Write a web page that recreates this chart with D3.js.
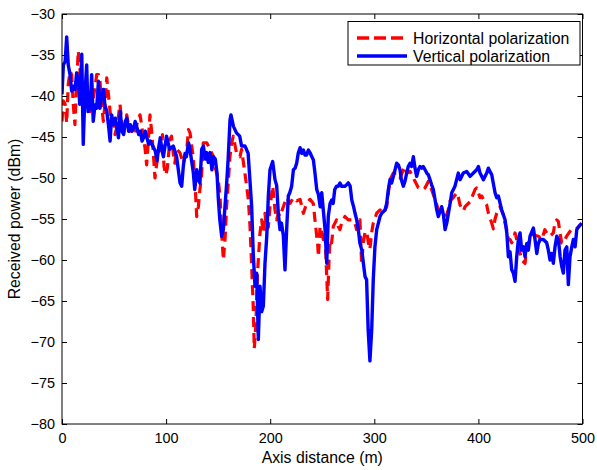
<!DOCTYPE html>
<html>
<head>
<meta charset="utf-8">
<script src="https://cdn.jsdelivr.net/npm/d3@7"></script>
<style>
  body { margin: 0; background: #fff; }
  text { font-family: "Liberation Sans", Arial, sans-serif; }
</style>
</head>
<body>
<svg id="chart" width="597" height="470"></svg>
<script>
// ---------- DATA ----------
const seriesNames = ["Horizontal polarization", "Vertical polarization"];
const xTicks = [0, 100, 200, 300, 400, 500];
const yTicks = [-30, -35, -40, -45, -50, -55, -60, -65, -70, -75, -80];
const xLabel = "Axis distance (m)";
const yLabel = "Received power (dBm)";

const horizDist = [0,1.3,3,4.5,6,7.7,9.3,10.8,12.4,14,15.6,17.2,18.8,20.5,22,23.7,25.3,26.9,28.5,30.1,31.7,33.3,35,36.5,38.1,39.7,41.2,43,44.6,46.2,47.7,49.3,50.9,52.5,54,55.7,57.3,59,62.2,63.8,65.4,67,68.6,70.2,71.8,74.9,76.5,78,79.7,81.3,82.9,84.5,86.1,87.6,89.3,90.8,92.4,94,95.7,96.5,98,99.8,101.2,103.7,105.2,106.8,108.4,110,113.2,116.4,119.6,121.5,123,124.6,126,127.8,129.4,131,132.5,134,135.7,139,142.2,145.4,147,150.1,151.8,153.4,155,156.6,158.1,159.7,161.3,163,164.6,167.7,169.3,171,172.5,175.7,179,180.6,182.2,183.7,184.7,186.2,187.8,190.2,191.8,193.4,195,196.6,198.2,199.8,202.4,204.6,206.2,207.8,209.4,212.6,215.8,219,222.2,225.4,228.7,231.9,235,238.2,241.4,243,244.7,245.6,246.3,247.9,249.5,251,252.7,254.3,255.2,256.5,257.4,259,260.6,263.8,265.4,267,268.6,271.8,275,278.2,281.4,283,286.2,287.8,289.4,291,292.7,294.3,295.8,297.4,299,302.3,305.5,308.7,311.9,315.1,318.3,321.5,324.7,327.9,329.5,331.1,334.3,339.1,342.3,347.2,348.8,350.4,352,358.4,361.5,363,364.7,366.3,369.5,371,372.8,375.9,379.2,380.8,382.4,384,385.6,387.2,392,393.6,396.8,398.4,400,401.6,403.2,406.4,408,409.6,411.2,412.8,414.4,416,417.6,420.8,424,425.6,427.2,428.8,430.4,432,433.6,435.2,436.8,438.4,440,441.6,443.2,444.8,446.4,448,449.6,452.8,454.4,457.6,459.2,461,463.8,465.6,468.8,472,473.5,475.2,476.8,478.4,480,481.6,483.2,484.8,488,489.6,492.8,496,498];
const horizPower = [-43.1,-40.6,-41,-43.3,-38.6,-37,-37.4,-41,-43.5,-38.6,-34.5,-36.6,-39.6,-42.3,-40.6,-39,-40.6,-41.9,-41.1,-40.2,-39,-37.4,-37.4,-38.2,-41.1,-43.1,-41.1,-37.8,-39.8,-41.9,-43.5,-42.3,-44.7,-43.9,-42.7,-41,-43.1,-44.7,-42.3,-43.5,-44.3,-43.9,-44.3,-44.7,-43.5,-42.3,-43.5,-45.1,-46.3,-48.4,-45.5,-42.3,-44.3,-46.7,-50,-48.4,-47.2,-45.5,-46.7,-44.7,-48.6,-49.6,-48.8,-45.3,-44.9,-46.9,-48.2,-46.5,-46.9,-48.2,-46.9,-44.1,-44.5,-46.1,-47.4,-50.6,-54.7,-53.5,-51.4,-49.8,-45.7,-45.7,-46.5,-47.4,-48.6,-50.2,-52.2,-56.7,-60,-57.5,-53.5,-50.6,-47.4,-45.7,-44.9,-47,-47.2,-47.4,-46.5,-49.4,-52.6,-55.9,-60.8,-65.7,-70.8,-68,-61.6,-56.7,-55.1,-56.7,-54.3,-56.3,-56,-53.5,-51,-53.9,-55.1,-54.3,-54.7,-53.5,-52.4,-53.1,-52.4,-52.8,-52.6,-54.3,-53.1,-52.6,-53.1,-55.1,-57.1,-58,-59.6,-55.9,-56.7,-57.5,-56.7,-62,-64.8,-60,-57.5,-57.9,-55.9,-55.1,-55.9,-56.3,-55.5,-54.7,-55.1,-55.1,-55.5,-56.3,-55.1,-60.4,-57.9,-56.7,-56.5,-57.9,-58.7,-56.7,-55.5,-54.3,-53.9,-54.3,-53.5,-50.2,-49.4,-49.4,-50,-49,-48.6,-49.4,-49.2,-50.4,-51.2,-51.4,-51.2,-50.8,-50.4,-52.6,-53.9,-54.3,-54.5,-54.6,-54.5,-53.9,-52.8,-52.4,-51.8,-52.4,-53.3,-53.7,-54,-53.5,-52.9,-52.4,-51.4,-51.2,-51.8,-52.4,-52.2,-53,-53.3,-54.3,-54.9,-55.5,-56.2,-55,-54.3,-53.5,-54.5,-55.5,-56.3,-57.5,-57.5,-57.9,-57.5,-56.7,-57.5,-58.4,-59.2,-60,-60.2,-60.4,-58.6,-57.9,-57.5,-56.9,-57,-57.1,-57.3,-57.5,-56.3,-56.7,-57.1,-56.7,-55.5,-55.1,-55.3,-56.7,-57.9,-58,-57.5,-57.1,-56.5,-56.3,-56.3,-56,-55.7];

const vertDist = [0,1.3,3,4.5,6,7.7,9.3,11,12.6,14,16,17,19,20.4,22,23.7,25,27,28.5,30,31.7,33.3,35,36.5,38.1,39.8,41.2,43,44.6,46.2,47.7,49.2,51.2,52.8,54.2,56,57.6,59.2,60.8,62.2,64,65.7,67.3,68.9,70.3,72.1,73.7,75.3,76.9,78.3,80,81.6,83.3,84.8,86.3,88,89.6,91.3,92.9,94.4,95.9,97.4,100.4,103.4,106.9,110.1,113.4,115,116.5,118.2,119.5,121.5,122.9,126.2,127.5,129.5,131,132.5,134.2,135.8,137.5,139,140.5,142.3,144,145.6,147.3,148.9,150.2,151.6,153.4,155,156.6,158.2,159.6,161.4,162.3,164.7,167.6,170.7,172.5,175.7,177.2,178.8,180.7,182.2,183.7,185.4,187,188.6,190.2,191.8,193.4,195,196.7,198.2,199.8,202.4,204.6,206.2,207.8,209.4,210.8,212.6,214.2,215.8,217.4,218.8,220.6,222.3,223.9,225.4,226.9,228.7,230.3,231.9,233.4,234.9,236.7,238.2,240,241.5,243,244.7,246.3,248,249.5,251,252.7,254.3,255.8,257.5,259,260.5,262,263.8,265.4,267,268.5,270,272,273.5,275,276.8,278.4,280.1,281.5,283.1,284.7,286.1,288,289.5,291.1,292.6,294.1,295.8,297.5,299,300.6,302.3,303.9,305.5,307.1,310.3,311.9,313.5,315.1,316.7,319.9,321.5,323.1,324.7,326,327.9,329.5,331.1,332.6,334.3,335.8,337.5,339.1,340.7,342.3,343.9,345.5,347,348.8,350.4,351.9,353.5,355,356.7,358.3,360,361.5,364.7,366.4,368,369.6,372.8,374.4,377.5,380.7,382.4,385.5,388.8,392,395.2,398.4,400,401.6,404.8,408,409.6,412.8,416,417.6,419.2,422.4,425.6,427.3,428.8,430.4,432,433.6,435.2,436.8,438.4,440,441.6,443.2,444.8,446.4,448,449.6,452.8,454.4,456.1,457.6,459.2,462.4,465.6,467.2,468.8,470.4,472,473.6,475.3,476.9,478.5,480.1,481.6,483.2,484.9,486.4,488,489.7,491.2,492.9,494.5,496,499.3];
const vertPower = [-39.8,-36.2,-35.8,-32.8,-36.2,-37.4,-39.4,-38.8,-39.2,-37.2,-38.4,-41,-34.9,-45.9,-39.8,-36.2,-41.9,-41.5,-37.4,-43.1,-41.1,-41.5,-38.2,-41.5,-39.8,-39.2,-41.1,-41.9,-43.5,-45.5,-42.3,-43.5,-42.7,-43.9,-45.1,-41.9,-44.3,-44.7,-43.1,-42.7,-44.3,-43.5,-44.3,-43.9,-43.1,-43.9,-44.7,-44.3,-45.5,-45.1,-44.3,-45.1,-45.9,-45.5,-45.9,-46.3,-46.7,-47.9,-46.3,-45.1,-46.5,-47.4,-44.9,-46.5,-46.1,-47.4,-50.6,-51,-48.6,-47,-47.4,-45.7,-46.5,-49.4,-51.4,-49,-50.2,-50.6,-46.5,-46.1,-47.7,-46.9,-48.1,-46.9,-49,-47.4,-47.7,-49.4,-52.6,-55.1,-57.1,-56.3,-53.4,-50.6,-47.7,-42.9,-42.3,-43.7,-44.5,-44.9,-46.1,-46.1,-46.5,-47,-50.6,-53.5,-59.2,-63.2,-61.6,-69.7,-63.2,-66.3,-65.6,-60.4,-57.1,-52.2,-49,-48,-50.2,-50.9,-54.3,-56.3,-55.5,-57,-61.2,-56.3,-52.2,-51.8,-51,-49,-48.8,-48.2,-47,-46.3,-47,-46.6,-47.2,-47.2,-46.6,-46.9,-47.4,-47.8,-49.4,-51.4,-52,-53.5,-51.8,-53.9,-56.3,-60.4,-54.7,-53.1,-52.7,-53.1,-51.4,-51,-51,-50.6,-51,-51,-51,-50.8,-50.6,-51,-52.7,-53.5,-54.3,-55.1,-56.3,-57.9,-58.8,-60.4,-62,-62.4,-68.5,-72.3,-68.5,-62.4,-58.4,-56.3,-55.5,-54.7,-54.3,-53.9,-53.1,-51.4,-50.2,-50.6,-49,-48.2,-48.4,-49,-50.2,-51,-50.4,-49.4,-48.6,-48.2,-48.6,-47.4,-48.8,-49.8,-49,-48.6,-48.8,-48.6,-49,-49.4,-49.6,-50.2,-50.8,-51.4,-52.6,-53.9,-54.7,-53.5,-54.5,-56.3,-55.5,-53.1,-51.8,-51,-49.4,-50.2,-49.4,-49.2,-49.8,-49.4,-49,-48.6,-49.4,-50.2,-49.4,-48.8,-49.6,-51.8,-52.4,-52.2,-53.9,-55.1,-56.7,-59.6,-59,-61.2,-61.6,-62.6,-59.6,-57.5,-56.7,-58.8,-58.4,-59.6,-58,-58.8,-57.1,-56.1,-57.5,-59.2,-58,-57.5,-57.5,-57.9,-58.8,-60,-59.2,-60.4,-58.4,-57.1,-57.5,-59.6,-60.8,-61.6,-58.8,-58.4,-63,-59.6,-58.4,-57.5,-58.4,-56.3,-56,-55.5];

// ---------- LAYOUT ----------
const svg = d3.select("#chart");
const L = 62, R = 582.5, T = 14, B = 424;
const x = d3.scaleLinear().domain([0, 500]).range([L, R]);
const y = d3.scaleLinear().domain([-80, -30]).range([B, T]);
const fmt = d => (d < 0 ? "\u2212" + Math.abs(d) : String(d));
const FS = 15.8;      // labels and legend
const TFS = 14.4;     // tick labels

svg.append("rect").attr("x", 0).attr("y", 0).attr("width", 597).attr("height", 470).attr("fill", "#fff");

svg.append("clipPath").attr("id", "clip")
  .append("rect").attr("x", L).attr("y", T).attr("width", R - L).attr("height", B - T);

// series
const line = d3.line().x(d => x(d[0])).y(d => y(d[1]));
const hData = horizDist.map((d, i) => [d, horizPower[i]]);
const vData = vertDist.map((d, i) => [d, vertPower[i]]);

const g = svg.append("g").attr("clip-path", "url(#clip)");
g.append("path").datum(hData).attr("d", line)
  .attr("fill", "none").attr("stroke", "#ff0000").attr("stroke-width", 3.2)
  .attr("stroke-dasharray", "10,6").attr("stroke-linejoin", "round");
g.append("path").datum(vData).attr("d", line)
  .attr("fill", "none").attr("stroke", "#0000ff").attr("stroke-width", 3.4)
  .attr("stroke-linejoin", "round");

// axes (MATLAB-style box with inward ticks)
const tick = 5;
const axB = svg.append("g").attr("transform", `translate(0,${B})`)
  .call(d3.axisBottom(x).tickValues(xTicks).tickSize(-tick).tickPadding(9).tickFormat(fmt));
const axT = svg.append("g").attr("transform", `translate(0,${T})`)
  .call(d3.axisTop(x).tickValues(xTicks).tickSize(-tick).tickFormat(""));
const axL = svg.append("g").attr("transform", `translate(${L},0)`)
  .call(d3.axisLeft(y).tickValues(yTicks).tickSize(-tick).tickPadding(7).tickFormat(fmt));
const axR = svg.append("g").attr("transform", `translate(${R},0)`)
  .call(d3.axisRight(y).tickValues(yTicks).tickSize(-tick).tickFormat(""));
[axB, axT, axL, axR].forEach(a => {
  a.select(".domain").remove();
  a.selectAll("line").attr("stroke", "#000").attr("stroke-width", 1);
  a.selectAll("text").attr("font-size", TFS).attr("fill", "#000")
    .style("font-family", "'Liberation Sans', Arial, sans-serif");
});
svg.append("rect").attr("x", L).attr("y", T).attr("width", R - L).attr("height", B - T)
  .attr("fill", "none").attr("stroke", "#000").attr("stroke-width", 1);

// axis labels
svg.append("text").attr("x", (L + R) / 2).attr("y", 463).attr("text-anchor", "middle")
  .attr("font-size", FS).text(xLabel);
svg.append("text").attr("transform", `translate(20,${(T + B) / 2}) rotate(-90)`)
  .attr("text-anchor", "middle").attr("font-size", FS).text(yLabel);

// legend
const lg = svg.append("g");
lg.append("rect").attr("x", 348).attr("y", 21.5).attr("width", 232).attr("height", 43.5)
  .attr("fill", "#fff").attr("stroke", "#000").attr("stroke-width", 1);
const legendRows = [
  { name: seriesNames[0], color: "#ff0000", dash: "12,5", yy: 38 },
  { name: seriesNames[1], color: "#0000ff", dash: null, yy: 56 }
];
legendRows.forEach(r => {
  lg.append("line").attr("x1", 357).attr("x2", 407).attr("y1", r.yy).attr("y2", r.yy)
    .attr("stroke", r.color).attr("stroke-width", 3.4)
    .attr("stroke-dasharray", r.dash);
  lg.append("text").attr("x", 413).attr("y", r.yy).attr("dy", "0.35em")
    .attr("font-size", FS).text(r.name);
});
</script>
</body>
</html>
